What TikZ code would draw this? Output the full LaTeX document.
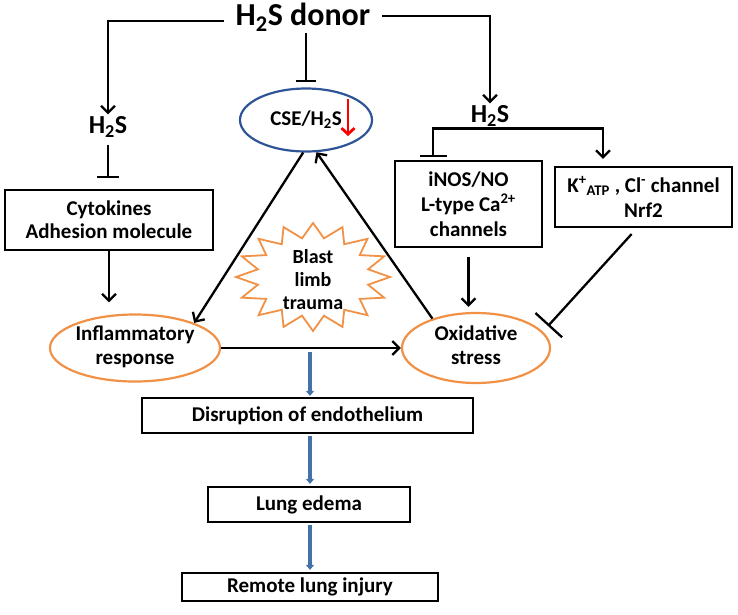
\documentclass[tikz,border=0pt]{standalone}
\usepackage{fontspec}
\setmainfont{Carlito}
\usetikzlibrary{shapes.geometric,arrows.meta}
\definecolor{orng}{RGB}{240,145,70}
\definecolor{navy}{RGB}{47,85,151}
\definecolor{steel}{RGB}{68,114,168}
\begin{document}
\begin{tikzpicture}[x=1pt,y=-1pt,
  txt/.style={font=\fontsize{21}{23}\selectfont\bfseries, align=center, inner sep=2pt},
  box/.style={txt, draw, line width=2.2pt, inner sep=0pt},
  oval/.style={txt, ellipse, draw=orng, line width=2.2pt, inner sep=0pt},
  conn/.style={line width=2.3pt, -{Straight Barb[length=7pt,width=14pt]}},
  inh/.style={line width=2.3pt, -{Bar[width=22pt]}},
  flow/.style={line width=3.5pt, draw=steel, -{Triangle[length=5pt,width=8pt]}}]
\useasboundingbox (0,0) rectangle (738,614);

% title and H2S labels
\node[txt, font=\fontsize{32}{34}\selectfont\bfseries, inner xsep=12pt] (donor) at (303,17) {H\textsubscript{2}S donor};
\node[txt, font=\fontsize{26}{28}\selectfont\bfseries] (lh) at (108,127) {H\textsubscript{2}S};
\node[txt, font=\fontsize{26}{28}\selectfont\bfseries] (rh) at (490,116) {H\textsubscript{2}S};

% CSE ellipse
\node[oval, draw=navy, minimum width=132pt, minimum height=63pt] (cse) at (306,120) {CSE/H\textsubscript{2}S};
\draw[red, line width=2.8pt, -{Straight Barb[length=6pt,width=13pt]}] ([xshift=42pt,yshift=21pt]cse.center) -- ([xshift=42pt,yshift=-16pt]cse.center);

% boxes
\node[box, minimum width=208pt, minimum height=60pt] (cyt) at (109,220) {Cytokines\\Adhesion molecule};
\node[box, font=\fontsize{21}{25}\selectfont\bfseries, minimum width=147pt, minimum height=86pt] (inos) at (468.5,204) {iNOS/NO\\L-type Ca\textsuperscript{2+}\\channels};
\node[box, font=\fontsize{21}{25}\selectfont\bfseries, minimum width=177pt, minimum height=60pt] (kch) at (643.5,197) {K\textsuperscript{+}\textsubscript{ATP} , Cl\textsuperscript{-} channel\\Nrf2};

% star
\draw[orng, line width=1.8pt] plot[samples at={0,...,31}] ({313+(1-0.27*mod(\x,2))*77*cos(90+\x*360/32)}, {277-(1-0.27*mod(\x,2))*54*sin(90+\x*360/32)}) -- cycle;
\node[txt, font=\fontsize{20}{23}\selectfont\bfseries] (blast) at (313,280) {Blast\\limb\\trauma};

% ellipses
\node[oval, minimum width=170pt, minimum height=67pt] (infl) at (135,348) {\raisebox{-11pt}{\begin{tabular}{@{}c@{}}Inflammatory\\[1pt]response\end{tabular}}};
\node[oval, minimum width=148pt, minimum height=70pt] (oxid) at (476,348) {\raisebox{-8pt}{\begin{tabular}{@{}c@{}}Oxidative\\[1pt]stress\end{tabular}}};

% bottom boxes
\node[box, minimum width=331pt, minimum height=35pt] (disr) at (307.5,415.5) {Disruption of endothelium};
\node[box, minimum width=202pt, minimum height=35pt] (edema) at (309,504.5) {Lung edema};
\node[box, minimum width=256pt, minimum height=28pt] (remote) at (310,587) {Remote lung injury};

% connectors from donor
\draw[conn] ([yshift=-4pt]donor.west) -| (lh.north);
\draw[conn] ([yshift=1pt]donor.east) -| (rh.north);
\draw[inh, -{Bar[width=20pt]}, shorten >=5pt] (donor.south -| cse.north) -- (cse.north);

% left branch
\draw[inh, shorten <=5pt, shorten >=11pt] (lh.south) -- (lh.south |- cyt.north);
\draw[conn, shorten >=11pt] (cyt.south) -- (cyt.south |- infl.north);

% triangle
\draw[conn] (cse.265) -- (infl.23);
\draw[conn] (oxid.146) -- (cse.288);
\draw[conn] (infl.east) -- (oxid.west);

% right branch
\draw[inh, -{Bar[width=27pt]}, shorten >=3pt] (rh.south) -| ([xshift=-35.5pt]inos.north);
\draw[conn, shorten >=7pt] (rh.south) -| ([xshift=-40.5pt]kch.north);
\draw[conn, shorten <=9pt, shorten >=5pt] (inos.south) -- (inos.south |- oxid.north);
\coordinate (kend) at (548,326);
\draw[inh, -{Bar[width=36pt]}, shorten <=8pt] ([xshift=-6.5pt]kch.south) -- (kend);

% blue flow
\coordinate (bstart) at (310,352);
\draw[flow, shorten >=1pt] (bstart) -- (bstart |- disr.north);
\draw[flow, shorten <=2pt, shorten >=2pt] (bstart |- disr.south) -- (bstart |- edema.north);
\draw[flow, shorten <=2pt, shorten >=2pt] (bstart |- edema.south) -- (bstart |- remote.north);
\end{tikzpicture}
\end{document}
